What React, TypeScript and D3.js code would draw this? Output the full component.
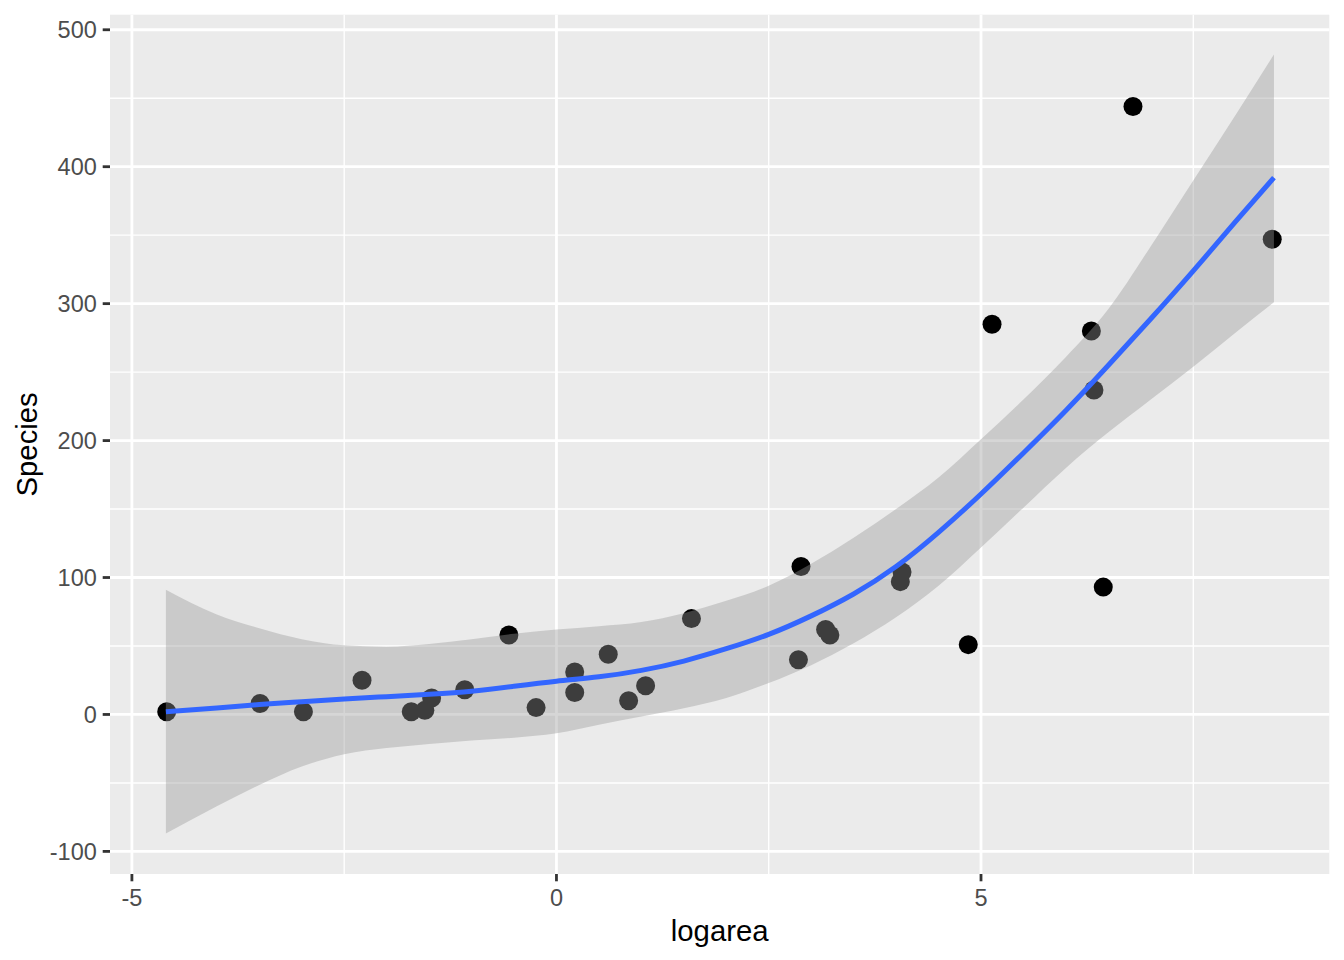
import React from 'react';
import * as d3 from 'd3';

// ---- data ----
const logarea = [
  -4.59, -3.49, -2.98, -2.29, -1.71, -1.55, -1.47, -1.08, -0.56, -0.24,
  0.215, 0.215, 0.61, 0.85, 1.05, 1.59, 2.85, 2.88, 3.17, 3.22,
  4.07, 4.05, 4.85, 5.13, 6.79, 6.30, 8.43, 6.44, 6.33,
];
const species = [
  2, 8, 2, 25, 2, 3, 12, 18, 58, 5,
  31, 16, 44, 10, 21, 70, 40, 108, 62, 58,
  104, 97, 51, 285, 444, 280, 347, 93, 237,
];

// smoothed fit (loess) and its confidence band
const smoothX = [-4.6, -4, -3.5, -3, -2.5, -2, -1.5, -1, -0.5, 0, 0.5, 1, 1.5, 2, 2.5, 3, 3.5, 4, 4.5, 5, 5.5, 6, 6.5, 7, 7.5, 8, 8.45];
const smoothFit = [2, 4.8, 7.2, 9.3, 11.3, 13, 14.8, 17, 20.6, 24.3, 27.5, 32.2, 39, 48, 58.5, 72, 88, 108, 133, 161, 191, 222, 255, 289, 324, 360, 392];
const smoothLo = [-87, -67, -51.5, -38, -29, -24.5, -21.5, -19, -17, -13.7, -7.5, -1.5, 4.5, 12, 23, 36, 52, 71, 94, 122, 151, 180, 206, 230, 254, 279, 301];
const smoothHi = [91, 73, 63, 55, 50.5, 49.5, 51.5, 55, 59, 62, 64.5, 67.5, 74, 83, 94, 110, 129, 150, 173, 201, 230, 261, 296, 342, 390, 438, 482];

const xMajor = [-5, 0, 5];
const xMinor = [-2.5, 2.5, 7.5];
const yMajor = [-100, 0, 100, 200, 300, 400, 500];
const yMinor = [-50, 50, 150, 250, 350, 450];

const xTitle = 'logarea';
const yTitle = 'Species';

const W = 1344;
const H = 960;
const P = { left: 110, right: 1329.3, top: 14.7, bottom: 874 };
const FONT = '"Liberation Sans", Arial, Helvetica, sans-serif';

export default function App() {
  const x = d3.scaleLinear().domain([-5.258, 9.102]).range([P.left, P.right]);
  const y = d3.scaleLinear().domain([-116.5, 511]).range([P.bottom, P.top]);

  const band = smoothX.map((v, i) => ({ x: v, lo: smoothLo[i], hi: smoothHi[i], fit: smoothFit[i] }));
  const area = d3
    .area<any>()
    .x((d) => x(d.x))
    .y0((d) => y(d.lo))
    .y1((d) => y(d.hi))
    .curve(d3.curveMonotoneX);
  const line = d3
    .line<any>()
    .x((d) => x(d.x))
    .y((d) => y(d.fit))
    .curve(d3.curveNatural);

  const tickLen = 7.3;

  return (
    <svg
      width={W}
      height={H}
      viewBox={`0 0 ${W} ${H}`}
      style={{ position: 'absolute', left: 0, top: 0, background: '#FFFFFF' }}
    >
      <rect x={0} y={0} width={W} height={H} fill="#FFFFFF" />
      <rect x={P.left} y={P.top} width={P.right - P.left} height={P.bottom - P.top} fill="#EBEBEB" />
      {/* minor grid */}
      {yMinor.map((v) => (
        <line key={'ym' + v} x1={P.left} x2={P.right} y1={y(v)} y2={y(v)} stroke="#FFFFFF" strokeWidth={1.4} />
      ))}
      {xMinor.map((v) => (
        <line key={'xm' + v} x1={x(v)} x2={x(v)} y1={P.top} y2={P.bottom} stroke="#FFFFFF" strokeWidth={1.4} />
      ))}
      {/* major grid */}
      {yMajor.map((v) => (
        <line key={'yM' + v} x1={P.left} x2={P.right} y1={y(v)} y2={y(v)} stroke="#FFFFFF" strokeWidth={2.8} />
      ))}
      {xMajor.map((v) => (
        <line key={'xM' + v} x1={x(v)} x2={x(v)} y1={P.top} y2={P.bottom} stroke="#FFFFFF" strokeWidth={2.8} />
      ))}

      {/* points */}
      {logarea.map((v, i) => (
        <circle key={'p' + i} cx={x(v)} cy={y(species[i])} r={9.5} fill="#000000" />
      ))}

      {/* ribbon and fit */}
      <path d={area(band) || ''} fill="#999999" fillOpacity={0.4} stroke="none" />
      <path d={line(band) || ''} fill="none" stroke="#3366FF" strokeWidth={5} />

      {/* y axis */}
      {yMajor.map((v) => (
        <g key={'yt' + v}>
          <line x1={P.left - tickLen} x2={P.left} y1={y(v)} y2={y(v)} stroke="#333333" strokeWidth={2.8} />
          <text
            x={P.left - tickLen - 5.9}
            y={y(v)}
            dy="0.36em"
            textAnchor="end"
            fontFamily={FONT}
            fontSize={23.5}
            fill="#4D4D4D"
          >
            {v}
          </text>
        </g>
      ))}
      {/* x axis */}
      {xMajor.map((v) => (
        <g key={'xt' + v}>
          <line x1={x(v)} x2={x(v)} y1={P.bottom} y2={P.bottom + tickLen} stroke="#333333" strokeWidth={2.8} />
          <text
            x={x(v)}
            y={905.5}
            textAnchor="middle"
            fontFamily={FONT}
            fontSize={23.5}
            fill="#4D4D4D"
          >
            {v}
          </text>
        </g>
      ))}

      <text
        x={(P.left + P.right) / 2}
        y={941}
        textAnchor="middle"
        fontFamily={FONT}
        fontSize={29.3}
        fill="#000000"
      >
        {xTitle}
      </text>
      <text
        transform={`translate(37, ${(P.top + P.bottom) / 2}) rotate(-90)`}
        textAnchor="middle"
        fontFamily={FONT}
        fontSize={29.3}
        fill="#000000"
      >
        {yTitle}
      </text>
    </svg>
  );
}
